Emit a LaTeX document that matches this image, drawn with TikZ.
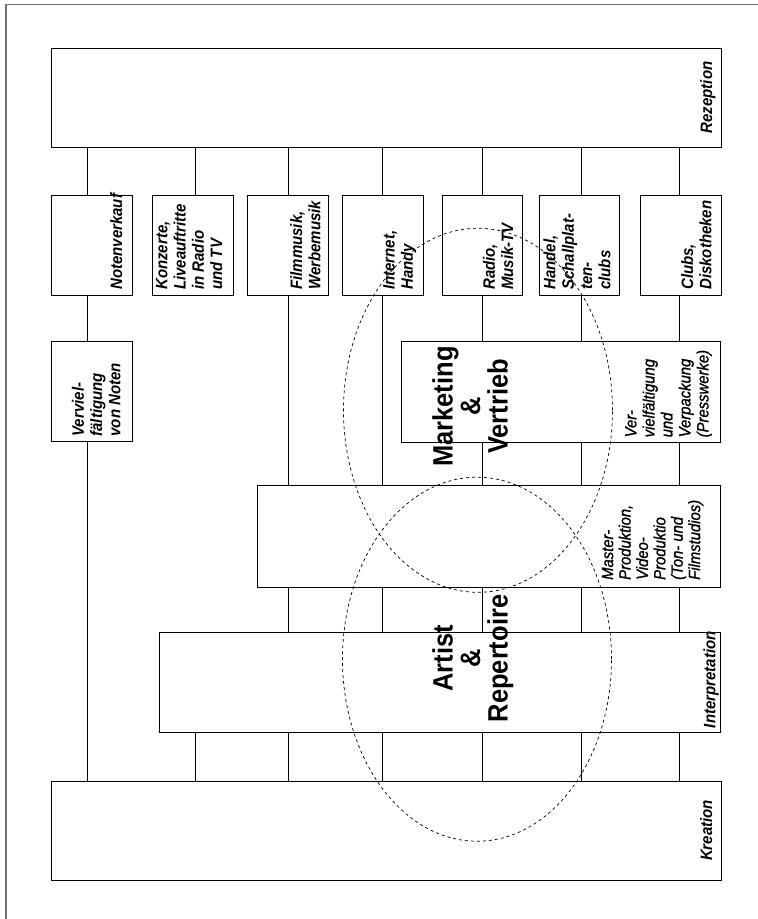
\documentclass[tikz,border=0pt]{standalone}
\usepackage{fontspec}
\setmainfont{Liberation Sans}[FakeStretch=0.91]
\newfontfamily\medfont{Liberation Sans}[FakeStretch=0.91, FakeBold=1.2]
\usetikzlibrary{shapes.geometric}
\begin{document}
\begin{tikzpicture}[x=1bp,y=-1bp,
  box/.style={draw=black, line width=0.9bp, inner sep=0, anchor=north west},
  conn/.style={draw=black, line width=0.9bp},
  border/.style={draw={rgb,255:red,110;green,110;blue,110}, line width=1.4bp},
  ell/.style={draw=black, ellipse, dash pattern=on 3bp off 3bp, line width=0.7bp, inner sep=0, minimum width=269bp, minimum height=364bp},
  lbl/.style={rotate=90, anchor=north west, inner sep=0, align=left, font=\fontsize{16.5bp}{18.3bp}\selectfont\bfseries\itshape},
  lblc/.style={lbl, anchor=north},
  lblm/.style={lbl, font=\medfont\fontsize{16.3bp}{18bp}\selectfont\itshape},
  lbls/.style={lbl, font=\medfont\fontsize{16.3bp}{17.4bp}\selectfont\itshape},
  big/.style={rotate=90, anchor=center, inner sep=0, align=center, font=\fontsize{28bp}{27.5bp}\selectfont\bfseries}
]
\useasboundingbox (0,0) rectangle (758,919);
\draw[border] (758,4.7) -- (5.8,4.7) -- (5.8,919);

% boxes
\node[box, minimum width=670bp, minimum height=98.4bp] (rez) at (51,48.3) {};
\node[box, minimum width=80.4bp, minimum height=100.3bp] (nvk) at (51.3,194.7) {};
\node[box, minimum width=80.4bp, minimum height=100.3bp] (konz) at (152.3,194.7) {};
\node[box, minimum width=80.2bp, minimum height=100.3bp] (film) at (247.3,194.7) {};
\node[box, minimum width=80.2bp, minimum height=100.3bp] (inet) at (342.3,194.7) {};
\node[box, minimum width=80.2bp, minimum height=100.3bp] (radio) at (441.7,194.7) {};
\node[box, minimum width=80.3bp, minimum height=100.3bp] (handel) at (539,194.7) {};
\node[box, minimum width=80.2bp, minimum height=100.3bp] (clubs) at (640.3,194.7) {};
\node[box, minimum width=80.4bp, minimum height=100bp] (verv) at (51.3,340.7) {};
\node[box, minimum width=319.6bp, minimum height=101bp] (mkt) at (400.7,340.7) {};
\node[box, minimum width=463.3bp, minimum height=101.5bp] (master) at (256.7,485) {};
\node[box, minimum width=561.3bp, minimum height=99.7bp] (interp) at (158.7,632.3) {};
\node[box, minimum width=670.3bp, minimum height=99.3bp] (kre) at (50.7,780.7) {};

% column coordinates
\coordinate (c1) at (87.5,0);
\coordinate (c2) at (195.3,0);
\coordinate (c3) at (288.5,0);
\coordinate (c4) at (382,0);
\coordinate (c5) at (482,0);
\coordinate (c6) at (581,0);
\coordinate (c7) at (679.4,0);

% connectors
\draw[conn] (rez.south -| c1) -- (nvk.north -| c1);
\draw[conn] (nvk.south -| c1) -- (verv.north -| c1);
\draw[conn] (verv.south -| c1) -- (kre.north -| c1);

\draw[conn] (rez.south -| c2) -- (konz.north -| c2);
\draw[conn] (interp.south -| c2) -- (kre.north -| c2);

\draw[conn] (rez.south -| c3) -- (film.north -| c3);
\draw[conn] (film.south -| c3) -- (master.north -| c3);
\draw[conn] (master.south -| c3) -- (interp.north -| c3);
\draw[conn] (interp.south -| c3) -- (kre.north -| c3);

\draw[conn] (rez.south -| c4) -- (inet.north -| c4);
\draw[conn] (inet.south -| c4) -- (master.north -| c4);
\draw[conn] (master.south -| c4) -- (interp.north -| c4);
\draw[conn] (interp.south -| c4) -- (kre.north -| c4);

\draw[conn] (rez.south -| c5) -- (radio.north -| c5);
\draw[conn] (radio.south -| c5) -- (mkt.north -| c5);
\draw[conn] (mkt.south -| c5) -- (master.north -| c5);
\draw[conn] (master.south -| c5) -- (interp.north -| c5);
\draw[conn] (interp.south -| c5) -- (kre.north -| c5);

\draw[conn] (rez.south -| c6) -- (handel.north -| c6);
\draw[conn] (handel.south -| c6) -- (mkt.north -| c6);
\draw[conn] (mkt.south -| c6) -- (master.north -| c6);
\draw[conn] (master.south -| c6) -- (interp.north -| c6);
\draw[conn] (interp.south -| c6) -- (kre.north -| c6);

\draw[conn] (rez.south -| c7) -- (clubs.north -| c7);
\draw[conn] (clubs.south -| c7) -- (mkt.north -| c7);
\draw[conn] (mkt.south -| c7) -- (master.north -| c7);
\draw[conn] (master.south -| c7) -- (interp.north -| c7);
\draw[conn] (interp.south -| c7) -- (kre.north -| c7);

% labels
\node[lblc] (trez) at (700,97.5) {Rezeption};
\node[lblc] (tkre) at (700,830.5) {Kreation};
\node[lbl] (tnvk) at (110,290) {Notenverkauf};
\node[lbl] (tkonz) at (155.7,290) {Konzerte,\\Liveauftritte\\in Radio\\und TV};
\node[lbl] (tfilm) at (290,290) {Filmmusik,\\Werbemusik};
\node[lbl] (tinet) at (383,290) {Internet,\\Handy};
\node[lbl] (tradio) at (482.7,290) {Radio,\\Musik-TV};
\node[lbl] (thandel) at (543.3,290) {Handel,\\Schallplat-\\ten-\\clubs};
\node[lbl] (tclubs) at (681,290) {Clubs,\\Diskotheken};
\node[lbl] (tverv) at (71.7,436.7) {Verviel-\\fältigung\\von Noten};
\node[lblm] (tmkt) at (625,437.5) {Ver-\\vielfältigung\\und\\Verpackung\\(Presswerke)};
\node[lbls] (tmaster) at (601.7,580) {Master-\\Produktion,\\Video-\\Produktio\\(Ton- und\\Filmstudios)};
\node[lbl] (tinterp) at (703.3,728.3) {Interpretation};

% big texts
\node[big] (tmv) at (470,406.5) {Marketing\\\&\\Vertrieb};
\node[big] (tar) at (473,658.5) {Artist\\\&\\Repertoire};

% ellipses
\node[ell] (emv) at (478,410.3) {};
\node[ell] (ear) at (477,659.2) {};
\end{tikzpicture}
\end{document}
